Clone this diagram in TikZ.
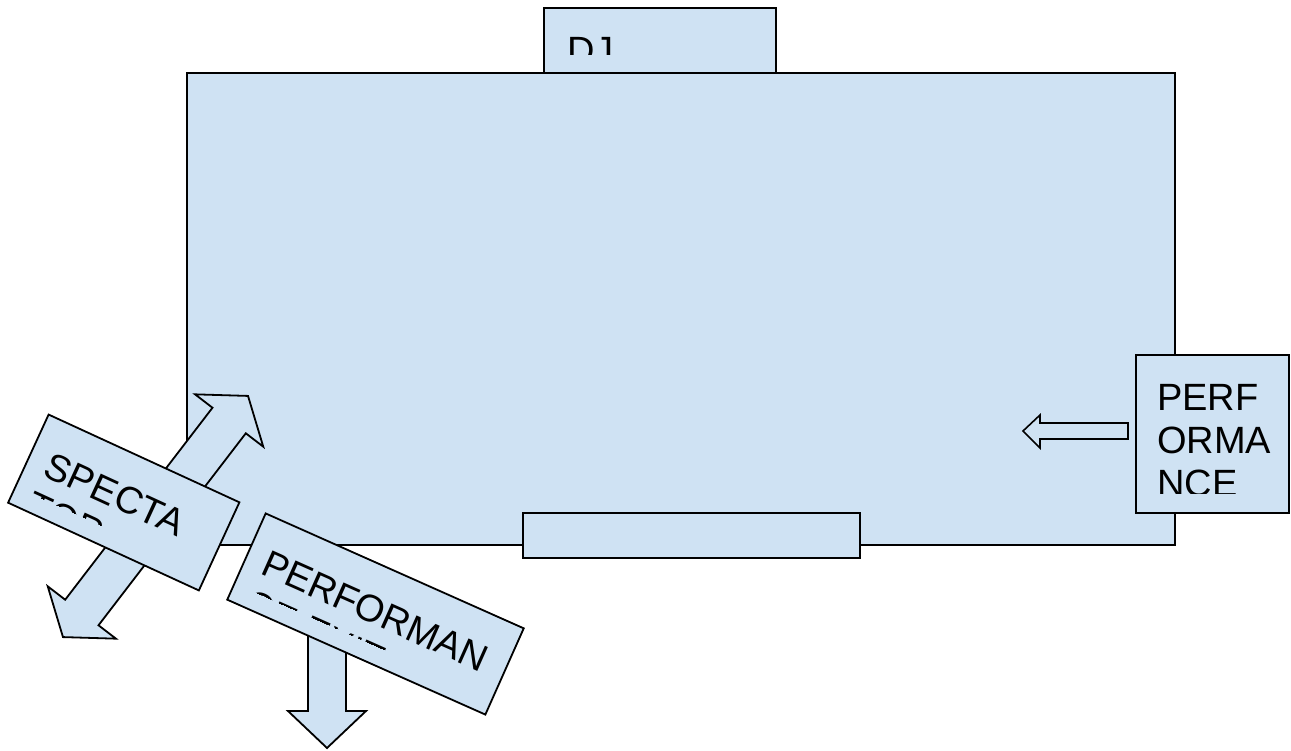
\documentclass[tikz,border=0pt]{standalone}
\usepackage{fontspec}
\setmainfont{Liberation Sans}
\definecolor{boxblue}{HTML}{CFE2F3}
\tikzset{
  panel/.style={draw=black, fill=boxblue, line width=1.8pt, line join=miter},
  boxtext/.style={anchor=north west, inner sep=0pt, align=left, font=\fontsize{38}{43}\selectfont},
}
\begin{document}
\begin{tikzpicture}[x=1pt, y=-1pt]
  \useasboundingbox (0,0) rectangle (1291,750);
  % dj booth
  \draw[panel] (544,8) rectangle (776,73);
  \begin{scope}
    \clip (544,8) rectangle (776,54);
    \node[boxtext] (dj) at (567,37) {DJ};
  \end{scope}
  \draw[panel] (187,73) rectangle (1175,545);
  \draw[panel] (523,513) rectangle (860,558);
  % performance entry
  \draw[panel, line width=1.6pt] (1128,423) -- (1040,423) -- (1040,415) -- (1023,431) -- (1040,448) -- (1040,439) -- (1128,439) -- cycle;
  \draw[panel] (1136,355) rectangle (1289,513);
  \begin{scope}
    \clip (1136,355) rectangle (1289,493);
    \node[boxtext] (perf) at (1157,384) {PERF\\ORMA\\NCE};
  \end{scope}
  % spectator
  \begin{scope}[shift={(155.5,516.5)}, rotate=52.5]
    \draw[panel] (152,0) -- (121,-43) -- (121,-21) -- (-121,-21) -- (-121,-43) -- (-152,0)
      -- (-121,43) -- (-121,21) -- (121,21) -- (121,43) -- cycle;
  \end{scope}
  \begin{scope}[shift={(123.75,502.5)}, rotate=-24.7, transform shape]
    \draw[panel] (-105,-48.5) rectangle (105,48.5);
    \clip (-105,-48.5) rectangle (105,30.5);
    \node[boxtext] (spec) at (-86,-17.5) {SPECTA\\TOR};
  \end{scope}
  % performance exit
  \draw[panel] (308,600) -- (308,711) -- (288,711) -- (327,748) -- (366,711) -- (346,711) -- (346,600) -- cycle;
  \begin{scope}[shift={(375.5,614)}, rotate=-24, transform shape]
    \draw[panel] (-141.25,-47.2) rectangle (141.25,47.2);
    \clip (-141.25,-47.2) rectangle (141.25,29.2);
    \node[boxtext] (exit) at (-123,-16.2) {PERFORMAN\\CE EXIT};
  \end{scope}
\end{tikzpicture}
\end{document}
